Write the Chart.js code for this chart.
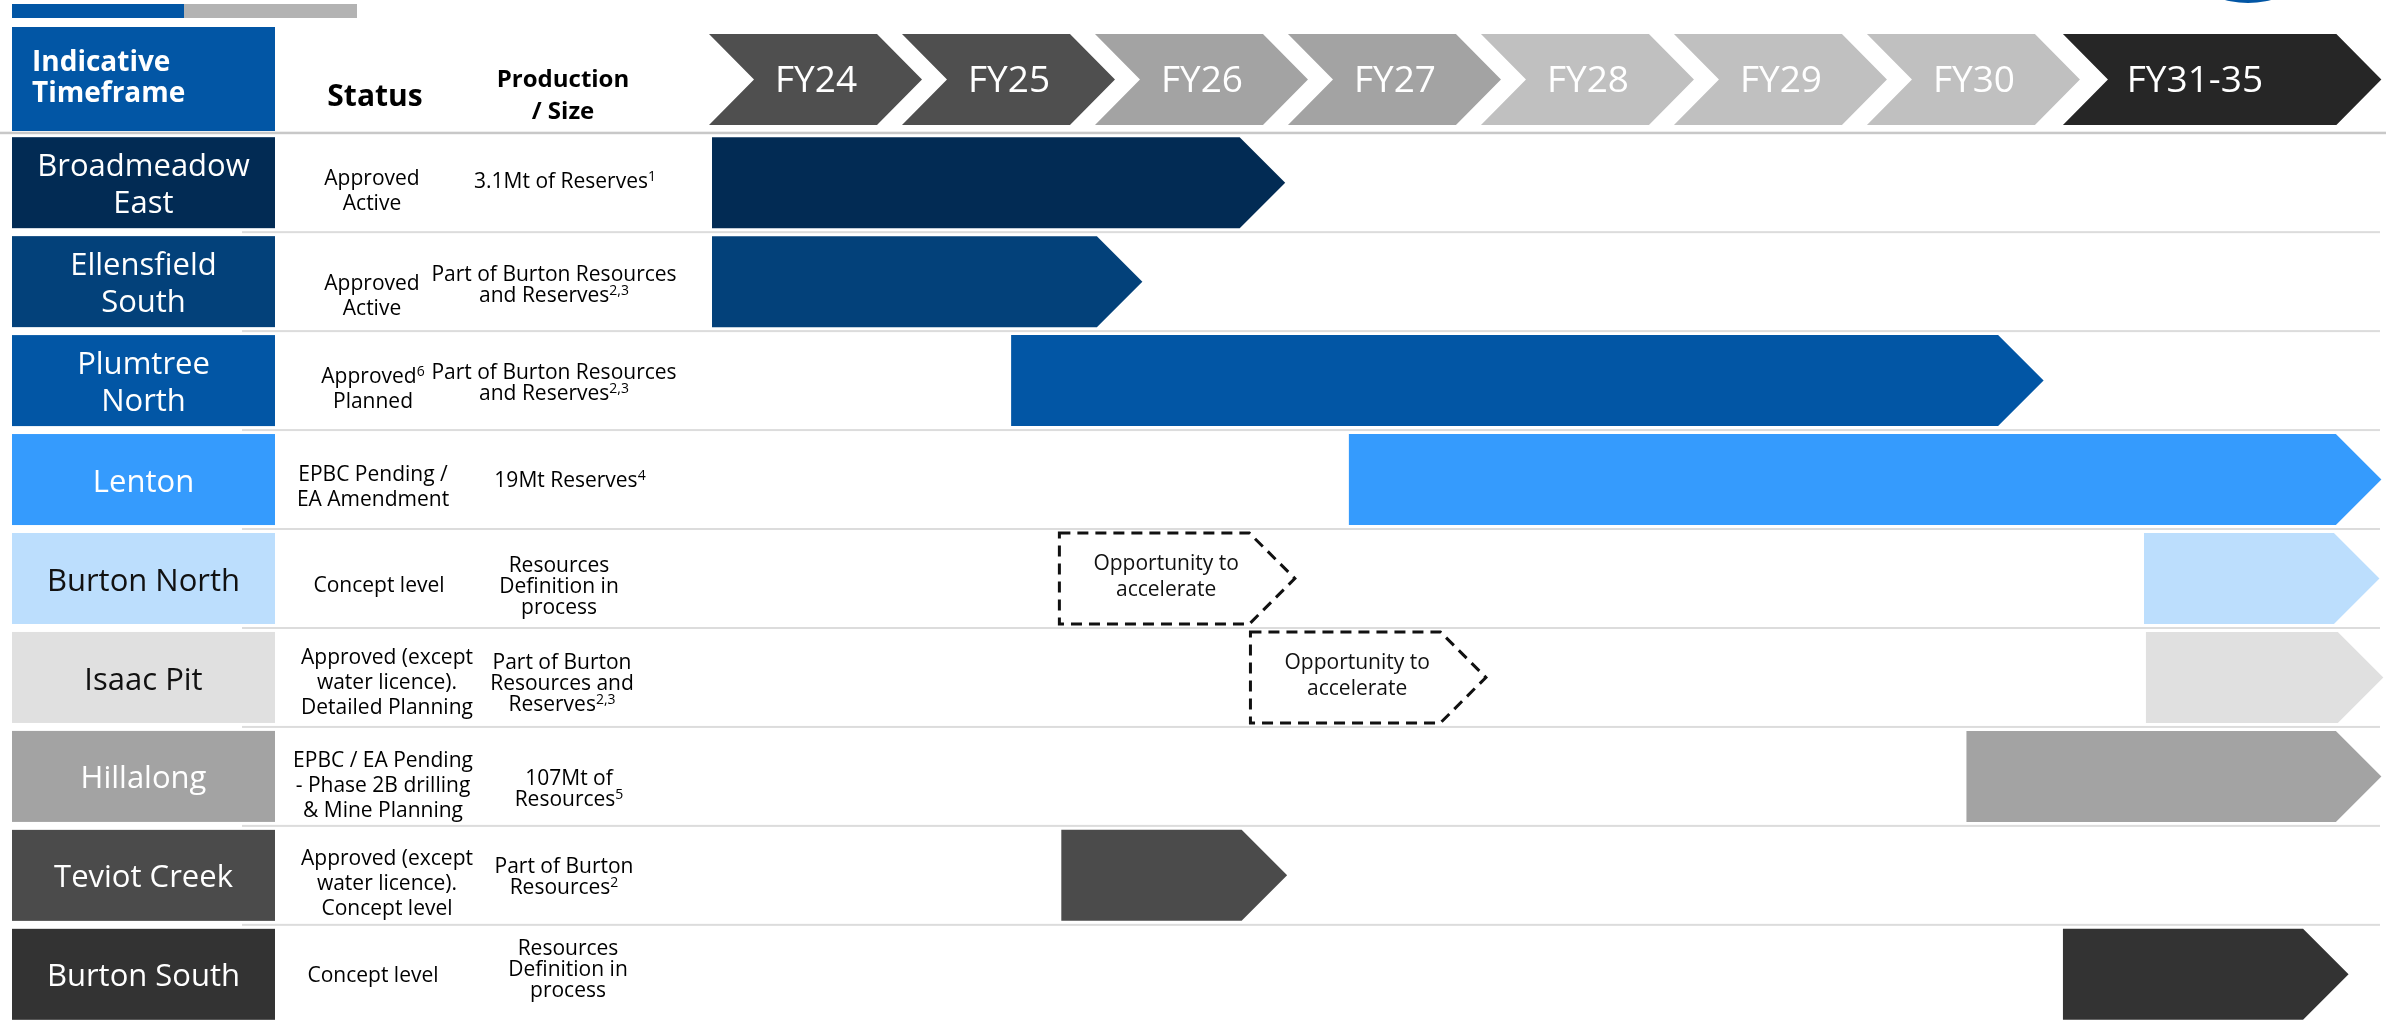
<!DOCTYPE html>
<html>
<head>
<meta charset="utf-8">
<script src="https://cdn.jsdelivr.net/npm/chart.js@4.4.1/dist/chart.umd.min.js"></script>
<style>
  html, body { margin: 0; padding: 0; background: #fff; overflow: hidden; }
  #wrap { position: relative; width: 2386px; height: 1024px; }
  #logo { position: absolute; left: 2158px; top: -177px; width: 180px; height: 180px; border-radius: 50%; background: #0256a5; }
</style>
</head>
<body>
<div id="wrap">
  <canvas id="timeline" width="2386" height="1024"></canvas>
  <div id="logo"></div>
</div>
<script>
const sites = ['Broadmeadow\nEast', 'Ellensfield\nSouth', 'Plumtree\nNorth', 'Lenton', 'Burton North', 'Isaac Pit', 'Hillalong', 'Teviot Creek', 'Burton South'];
const statuses = [
  'Approved\nActive',
  'Approved\nActive',
  'Approved{6}\nPlanned',
  'EPBC Pending /\nEA Amendment',
  'Concept level',
  'Approved (except\nwater licence).\nDetailed Planning',
  'EPBC / EA Pending\n- Phase 2B drilling\n& Mine Planning',
  'Approved (except\nwater licence).\nConcept level',
  'Concept level',
];
const sizes = [
  '3.1Mt of Reserves{1}',
  'Part of Burton Resources\nand Reserves{2,3}',
  'Part of Burton Resources\nand Reserves{2,3}',
  '19Mt Reserves{4}',
  'Resources\nDefinition in\nprocess',
  'Part of Burton\nResources and\nReserves{2,3}',
  '107Mt of\nResources{5}',
  'Part of Burton\nResources{2}',
  'Resources\nDefinition in\nprocess',
];
const years = ['FY24', 'FY25', 'FY26', 'FY27', 'FY28', 'FY29', 'FY30', 'FY31-35'];
// timeline measured in years from the start of FY24
const spanStart = [0, 0, 1.55, 3.30, 7.42, 7.43, 6.50, 1.81, 7.00];
const spanEnd = [2.97, 2.23, 6.90, 8.65, 8.64, 8.66, 8.65, 2.98, 8.48];
const oppStart = [null, null, null, null, 1.80, 2.79, null, null, null];
const oppEnd = [null, null, null, null, 3.02, 4.01, null, null, null];
const oppLabel = 'Opportunity to\naccelerate';

const siteColors = ['#022b54', '#03417a', '#0256a5', '#359bfd', '#bcdefd', '#e0e0e0', '#a3a3a3', '#4b4b4b', '#333333'];
const siteText = ['#fff', '#fff', '#fff', '#fff', '#111', '#111', '#fff', '#fff', '#fff'];
const yearColors = ['#4f4f4f', '#4f4f4f', '#a3a3a3', '#a3a3a3', '#c0c0c0', '#c0c0c0', '#c0c0c0', '#262626'];

// text box placement per row (x centre, y offset from the row centre)
const statusX = [372, 372, 373, 373, 379, 387, 383, 387, 373];
const statusDy = [7, 13, 7, 6, 6, 4, 8, 7, 0];
const sizeX = [565, 554, 554, 570, 559, 562, 569, 564, 568];
const sizeDy = [-2, 2, 1, 0, 7, 5, 12, 1, -6];

const FONT = '"Open Sans", sans-serif';

// one line, with {..} parts drawn as superscript
function richLine(ctx, line, cx, baseY, size, weight, color) {
  const parts = line.split(/\{([^}]*)\}/);
  const supSize = Math.round(size * 0.68);
  let total = 0;
  const widths = parts.map((p, i) => {
    ctx.font = `${weight} ${i % 2 ? supSize : size}px ${FONT}`;
    const w = ctx.measureText(p).width;
    total += w;
    return w;
  });
  let x = cx - total / 2;
  ctx.fillStyle = color;
  ctx.textAlign = 'left';
  ctx.textBaseline = 'alphabetic';
  parts.forEach((p, i) => {
    ctx.font = `${weight} ${i % 2 ? supSize : size}px ${FONT}`;
    ctx.fillText(p, x, i % 2 ? baseY - size * 0.33 : baseY);
    x += widths[i];
  });
}

function richBlock(ctx, text, cx, cy, size, lineH, weight, color) {
  const lines = text.split('\n');
  const first = cy + size * 0.357 - (lines.length - 1) * lineH / 2;
  lines.forEach((l, i) => richLine(ctx, l, cx, first + i * lineH, size, weight, color));
}

function arrowPath(ctx, left, right, top, bottom) {
  const mid = (top + bottom) / 2;
  const head = (bottom - top) / 2;
  ctx.beginPath();
  ctx.moveTo(left, top);
  ctx.lineTo(right - head, top);
  ctx.lineTo(right, mid);
  ctx.lineTo(right - head, bottom);
  ctx.lineTo(left, bottom);
  ctx.closePath();
}

const tablePlugin = {
  id: 'table',
  beforeDraw(chart) {
    const ctx = chart.ctx;
    const xs = chart.scales.x;
    const ys = chart.scales.y;
    const pitch = ys.height / sites.length;
    ctx.save();

    // little bar top left
    ctx.fillStyle = '#0256a5';
    ctx.fillRect(12, 4, 172, 14);
    ctx.fillStyle = '#b3b3b3';
    ctx.fillRect(184, 4, 173, 14);

    // header cells
    ctx.fillStyle = '#0256a5';
    ctx.fillRect(12, 27, 263, 104);
    ctx.fillStyle = '#fff';
    ctx.font = `bold 28px ${FONT}`;
    ctx.textAlign = 'left';
    ctx.fillText('Indicative', 32, 71);
    ctx.fillText('Timeframe', 32, 102);
    richLine(ctx, 'Status', 375, 106, 30, 'bold', '#000');
    richLine(ctx, 'Production', 563, 87, 24, 'bold', '#000');
    richLine(ctx, '/ Size', 563, 119, 24, 'bold', '#000');

    // year chevrons along the x scale
    const top = 34, bottom = 125, d = 45, mid = (top + bottom) / 2;
    years.forEach((yr, k) => {
      const last = k === years.length - 1;
      const x0 = last ? xs.getPixelForValue(k) : xs.getPixelForValue(k) - 3;
      const tip = last ? xs.getPixelForValue(8.65) : x0 + 213;
      ctx.fillStyle = yearColors[k];
      ctx.beginPath();
      ctx.moveTo(x0, top);
      ctx.lineTo(tip - d, top);
      ctx.lineTo(tip, mid);
      ctx.lineTo(tip - d, bottom);
      ctx.lineTo(x0, bottom);
      ctx.lineTo(x0 + d, mid);
      ctx.closePath();
      ctx.fill();
      richLine(ctx, yr, last ? x0 + 132 : x0 + 107, 92, 37, 'normal', '#fff');
    });

    // header rule and row rules
    ctx.fillStyle = '#c8c8c8';
    ctx.fillRect(0, ys.getPixelForValue(0) - pitch / 2 - 1.5, chart.width, 2.5);
    ctx.fillStyle = '#dcdcdc';
    for (let i = 1; i < sites.length; i++) {
      ctx.fillRect(242, ys.getPixelForValue(i) - pitch / 2 - 1, 2138, 2);
    }

    // site cells + status + size columns
    sites.forEach((name, i) => {
      const cy = ys.getPixelForValue(i);
      ctx.fillStyle = siteColors[i];
      ctx.fillRect(12, cy - 45.5, 263, 91);
      richBlock(ctx, name, 143.5, cy + 1, 31, 37, 'normal', siteText[i]);
      richBlock(ctx, statuses[i], statusX[i], cy + statusDy[i], 21, 25, 'normal', '#000');
      richBlock(ctx, sizes[i], sizeX[i], cy + sizeDy[i], 21, 21, 'normal', '#000');
    });
    ctx.restore();
  },
  beforeDatasetDraw(chart, args) {
    const ctx = chart.ctx;
    const ds = chart.data.datasets[args.index];
    ctx.save();
    args.meta.data.forEach((el, i) => {
      if (ds.data[i] == null) return;
      const left = Math.min(el.x, el.base);
      const right = Math.max(el.x, el.base);
      const t = el.y - el.height / 2;
      const b = el.y + el.height / 2;
      arrowPath(ctx, left, right, t, b);
      if (ds.dashed) {
        ctx.setLineDash([11, 7]);
        ctx.lineWidth = 3;
        ctx.strokeStyle = '#111';
        ctx.stroke();
        ctx.setLineDash([]);
        richBlock(ctx, oppLabel, (left + right) / 2 - 11, el.y - 3, 21, 26, 'normal', '#111');
      } else {
        ctx.fillStyle = ds.backgroundColor[i];
        ctx.fill();
      }
    });
    ctx.restore();
    return false;
  }
};

new Chart(document.getElementById('timeline'), {
  type: 'bar',
  data: {
    labels: sites,
    datasets: [
      {
        data: spanStart.map((s, i) => [s, spanEnd[i]]),
        backgroundColor: siteColors,
        barThickness: 91,
        grouped: false,
      },
      {
        data: oppStart.map((s, i) => (s == null ? null : [s, oppEnd[i]])),
        backgroundColor: 'transparent',
        barThickness: 91,
        grouped: false,
        dashed: true,
      },
    ],
  },
  options: {
    indexAxis: 'y',
    responsive: false,
    animation: false,
    layout: { padding: { left: 712, top: 133.2, right: 0, bottom: 0.2 } },
    plugins: { legend: { display: false }, tooltip: { enabled: false } },
    scales: {
      x: { type: 'linear', min: 0, max: 8.674, display: false },
      y: { display: false },
    },
  },
  plugins: [tablePlugin],
});
</script>
</body>
</html>
